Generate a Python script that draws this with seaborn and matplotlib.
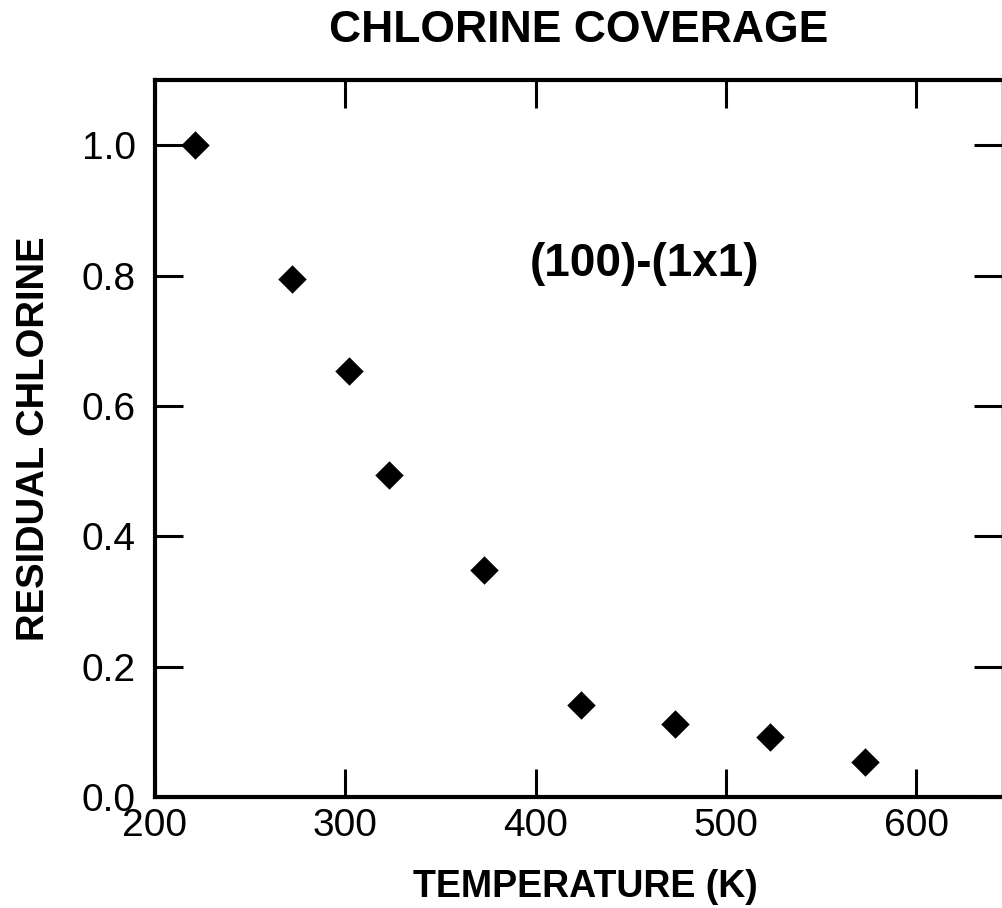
import pandas as pd
import matplotlib
matplotlib.use("Agg")
import matplotlib.pyplot as plt
import seaborn as sns

# Данные
temperature = [221, 272, 302, 323, 373, 424, 473, 523, 573]
residual_cl = [1.0, 0.794, 0.653, 0.494, 0.349, 0.141, 0.112, 0.092, 0.054]
x_ticks = [200, 300, 400, 500, 600]
y_ticks = [0.0, 0.2, 0.4, 0.6, 0.8, 1.0]

df = pd.DataFrame({'T': temperature, 'Cl': residual_cl})

sns.set_theme(style="ticks")
plt.rcParams['font.family'] = ['Liberation Sans', 'DejaVu Sans']
plt.rcParams['text.color'] = 'black'
plt.rcParams['axes.labelcolor'] = 'black'

fig = plt.figure(figsize=(10.03, 9.08), dpi=100)
ax = fig.add_axes([0.1545, 0.1222, 0.8445, 0.7897])

sns.scatterplot(data=df, x='T', y='Cl', marker='D', color='black', s=210,
                edgecolor='black', linewidth=0, ax=ax, zorder=3)

ax.set_xlim(200, 645)
ax.set_ylim(0, 1.1)
ax.set_xticks(x_ticks)
ax.set_yticks(y_ticks)
ax.set_yticklabels([f'{v:.1f}' for v in y_ticks])

for side in ['left', 'bottom', 'top']:
    ax.spines[side].set_linewidth(3)
    ax.spines[side].set_color('black')
ax.spines['right'].set_linewidth(1)
ax.spines['right'].set_color('black')

ax.tick_params(axis='both', direction='in', length=20, width=2.2, colors='black',
               labelsize=28, top=True, right=True)
ax.tick_params(axis='x', pad=8)
ax.tick_params(axis='y', pad=14)

ax.set_xlabel('TEMPERATURE (K)', fontsize=27, fontweight='bold', labelpad=18)
ax.xaxis.set_label_coords(0.508, -0.1)
ax.set_ylabel('RESIDUAL CHLORINE', fontsize=27.5, fontweight='bold', labelpad=21)
ax.set_title('CHLORINE COVERAGE', fontsize=32, fontweight='bold', pad=27)
ax.text(457, 0.818, '(100)-(1x1)', fontsize=33, fontweight='bold',
        ha='center', va='center')

plt.savefig('out.png', dpi=100)
